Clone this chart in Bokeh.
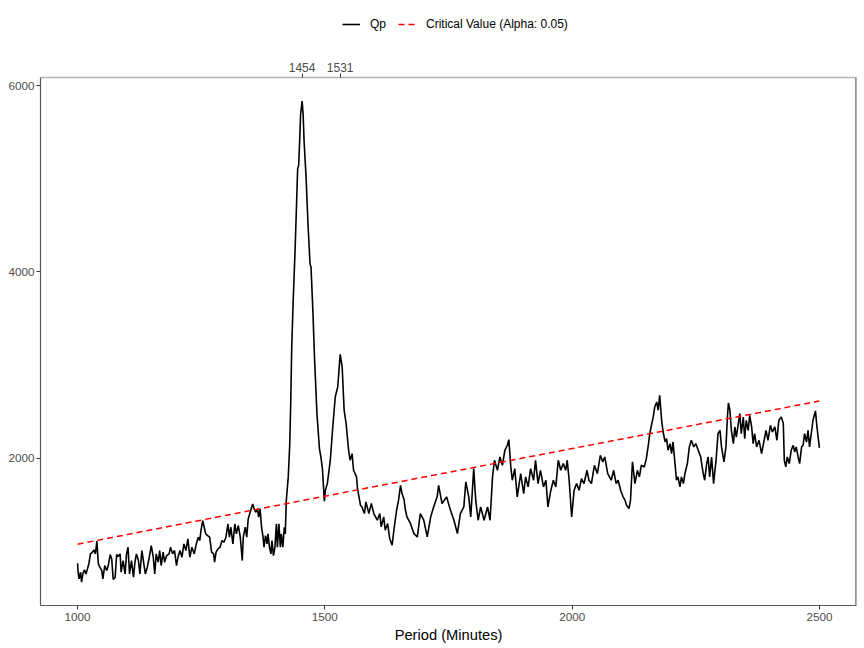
from bokeh.plotting import figure
from bokeh.layouts import column
from bokeh.models import Range1d, LinearAxis, FixedTicker, Legend, LegendItem, Span
from bokeh.embed import file_html
from bokeh.resources import INLINE

periods = [
    1000, 1001, 1003, 1006, 1008, 1011, 1014, 1017, 1020, 1023, 1026, 1030, 1033, 1036, 1039,
    1042, 1045, 1049, 1051, 1055, 1059, 1062, 1066, 1069, 1072, 1076, 1079, 1082, 1086, 1088,
    1092, 1096, 1099, 1102, 1105, 1109, 1113, 1116, 1119, 1123, 1126, 1130, 1133, 1137, 1141,
    1145, 1149, 1153, 1156, 1159, 1163, 1166, 1169, 1173, 1176, 1180, 1185, 1188, 1192, 1196,
    1200, 1203, 1207, 1211, 1215, 1219, 1223, 1227, 1231, 1236, 1240, 1244, 1247, 1250, 1253,
    1256, 1259, 1263, 1267, 1271, 1275, 1277, 1280, 1284, 1288, 1292, 1296, 1300, 1304, 1307,
    1310, 1314, 1318, 1321, 1325, 1329, 1333, 1335, 1339, 1342, 1345, 1349, 1352, 1354, 1357,
    1360, 1364, 1366, 1369, 1372, 1375, 1377, 1380, 1383, 1385, 1388, 1391, 1393, 1396, 1399,
    1402, 1404, 1407, 1410, 1412, 1415, 1418, 1420, 1422, 1426, 1429, 1431, 1433, 1436, 1440,
    1445, 1447, 1449, 1451, 1454, 1456, 1458, 1462, 1466, 1470, 1472, 1476, 1479, 1484, 1489,
    1492, 1495, 1499, 1501, 1505, 1511, 1516, 1521, 1526, 1531, 1535, 1539, 1543, 1548, 1551,
    1555, 1558, 1564, 1566, 1572, 1575, 1580, 1583, 1589, 1594, 1599, 1606, 1611, 1614, 1619,
    1622, 1627, 1631, 1636, 1640, 1645, 1649, 1653, 1656, 1660, 1663, 1666, 1673, 1680, 1687,
    1693, 1700, 1707, 1714, 1720, 1727, 1730, 1737, 1746, 1754, 1761, 1768, 1774, 1781, 1785,
    1791, 1795, 1801, 1805, 1810, 1815, 1822, 1829, 1834, 1839, 1843, 1849, 1854, 1859, 1864,
    1869, 1872, 1876, 1879, 1884, 1889, 1896, 1902, 1906, 1911, 1916, 1922, 1926, 1931, 1936,
    1942, 1947, 1951, 1957, 1962, 1967, 1972, 1977, 1982, 1987, 1990, 1994, 1999, 2004, 2009,
    2014, 2019, 2024, 2030, 2034, 2039, 2045, 2051, 2057, 2062, 2066, 2072, 2079, 2084, 2089,
    2093, 2098, 2103, 2107, 2110, 2115, 2118, 2122, 2127, 2132, 2136, 2140, 2146, 2150, 2154,
    2157, 2161, 2164, 2167, 2171, 2174, 2177, 2181, 2184, 2188, 2191, 2194, 2198, 2201, 2204,
    2208, 2211, 2214, 2218, 2221, 2225, 2228, 2233, 2237, 2241, 2246, 2250, 2255, 2260, 2265,
    2268, 2272, 2275, 2278, 2282, 2286, 2291, 2295, 2299, 2302, 2307, 2311, 2314, 2316, 2319,
    2322, 2326, 2329, 2332, 2336, 2339, 2342, 2346, 2349, 2352, 2356, 2359, 2363, 2366, 2369,
    2373, 2378, 2383, 2387, 2392, 2396, 2401, 2405, 2410, 2414, 2418, 2423, 2427, 2429, 2432,
    2435, 2439, 2443, 2447, 2450, 2453, 2457, 2460, 2464, 2467, 2470, 2474, 2477, 2480, 2484,
    2487, 2492, 2495, 2500,
]

qp = [
    874, 777, 706, 777, 670, 767, 802, 759, 813, 874, 974, 992, 1017, 974, 1110,
    867, 831, 795, 706, 849, 795, 849, 967, 920, 699, 724, 967, 945, 974, 777,
    902, 759, 974, 1045, 759, 902, 724, 885, 974, 902, 759, 1010, 902, 759, 831,
    938, 1063, 938, 759, 974, 885, 1010, 849, 992, 885, 956, 974, 1045, 974, 1010,
    849, 938, 1010, 938, 1081, 1010, 1135, 938, 1045, 974, 1081, 1153, 1117, 1242, 1331,
    1260, 1188, 1171, 1153, 992, 974, 885, 992, 1028, 1045, 1117, 1099, 1153, 1296, 1153,
    1260, 1081, 1296, 1188, 1278, 1153, 902, 1153, 1260, 1153, 1349, 1421, 1474, 1510, 1457,
    1421, 1457, 1367, 1457, 1260, 1153, 1045, 1171, 1081, 1188, 1045, 974, 1117, 956, 1045,
    1296, 1045, 1296, 1045, 1188, 1045, 1260, 1188, 1546, 1800, 2150, 2600, 3194, 3700, 4266,
    5107, 5143, 5400, 5696, 5832, 5696, 5400, 5017, 4500, 4088, 4050, 3552, 3086, 2479, 2104,
    2014, 1889, 1540, 1657, 1728, 1979, 2336, 2657, 2765, 3115, 2980, 2515, 2372, 2086, 1979,
    2050, 1871, 1800, 1675, 1496, 1478, 1407, 1531, 1407, 1514, 1407, 1335, 1407, 1264, 1371,
    1228, 1300, 1139, 1067, 1246, 1442, 1550, 1710, 1621, 1560, 1442, 1371, 1300, 1192, 1157,
    1407, 1335, 1157, 1371, 1478, 1586, 1710, 1514, 1586, 1442, 1335, 1192, 1407, 1478, 1746,
    1586, 1371, 1889, 1550, 1335, 1478, 1335, 1478, 1335, 1800, 1979, 1871, 2014, 1925, 2086,
    2139, 2200, 1907, 1764, 1889, 1586, 1836, 1621, 1800, 1693, 1889, 1764, 1979, 1728, 1871,
    1693, 1764, 1478, 1657, 1764, 1693, 1979, 1871, 1943, 1871, 1979, 1764, 1371, 1657, 1728,
    1657, 1782, 1728, 1871, 1764, 1728, 1925, 1836, 2032, 1961, 2014, 1836, 1764, 1871, 1728,
    1764, 1657, 1586, 1550, 1496, 1460, 1550, 1961, 1728, 1871, 1800, 1925, 1907, 1996, 2139,
    2264, 2372, 2443, 2550, 2604, 2515, 2676, 2407, 2282, 2175, 2211, 2086, 2157, 2050, 2175,
    1943, 1764, 1800, 1693, 1800, 1728, 1836, 1943, 2122, 2193, 2122, 2157, 2086, 2014, 1836,
    1764, 1943, 2014, 1800, 2014, 1728, 1979, 2264, 2300, 2122, 1961, 2122, 2443, 2593, 2515,
    2300, 2157, 2336, 2228, 2372, 2479, 2264, 2443, 2211, 2407, 2300, 2461, 2336, 2157, 2264,
    2122, 2193, 2050, 2157, 2300, 2193, 2354, 2282, 2336, 2193, 2407, 2443, 2372, 1979, 1907,
    2014, 1943, 2086, 2139, 2068, 2122, 2014, 1943, 2122, 2139, 2264, 2175, 2300, 2122, 2282,
    2407, 2508, 2336, 2111,
]

crit_periods = [1000, 1250, 1500, 1750, 2000, 2250, 2500]
crit_values = [1078, 1336, 1593, 1849, 2104, 2359, 2614]

peak_ticks = [1454, 1531]
x_ticks = [1000, 1500, 2000, 2500]
y_ticks = [2000, 4000, 6000]

FONT = "Liberation Sans"
TICK_COL = "#4d4d4d"
QP_STYLE = dict(line_color="black", line_width=1.6)
CV_STYLE = dict(line_color="red", line_width=1.5, line_dash="6 4")

# ---------------- legend strip (top) ----------------
leg_fig = figure(width=864, height=50, output_backend="svg", toolbar_location=None,
                 x_range=Range1d(925, 2575), y_range=Range1d(-2, -1),
                 x_axis_type=None, y_axis_type=None,
                 min_border_left=0, min_border_right=0, min_border_top=0, min_border_bottom=0)
leg_fig.xgrid.visible = False
leg_fig.ygrid.visible = False
leg_fig.outline_line_color = None
lr1 = leg_fig.line(periods, qp, **QP_STYLE)
lr2 = leg_fig.line(crit_periods, crit_values, **CV_STYLE)
legend = Legend(items=[LegendItem(label="Qp", renderers=[lr1]),
                       LegendItem(label="Critical Value (Alpha: 0.05)", renderers=[lr2])],
                orientation="horizontal", location=(302, 19))
legend.label_text_font = FONT
legend.label_text_font_size = "12px"
legend.label_text_color = "black"
legend.glyph_width = 18
legend.glyph_height = 14
legend.label_standoff = 10
legend.spacing = 8
legend.padding = 4
legend.margin = 0
legend.border_line_color = None
legend.background_fill_alpha = 0
leg_fig.add_layout(legend)

# ---------------- main chart ----------------
p = figure(width=864, height=598, output_backend="svg", toolbar_location=None,
           x_range=leg_fig.x_range, y_range=Range1d(420, 6086),
           min_border_left=40, min_border_right=8, min_border_top=27, min_border_bottom=43)
p.xgrid.visible = False
p.ygrid.visible = False
p.outline_line_color = None
p.background_fill_color = "white"

p.line(periods, qp, **QP_STYLE)
p.line(crit_periods, crit_values, **CV_STYLE)

xa = p.xaxis[0]
xa.ticker = FixedTicker(ticks=x_ticks)
xa.axis_label = "Period (Minutes)"
ya = p.yaxis[0]
ya.ticker = FixedTicker(ticks=y_ticks)

for ax in (xa, ya):
    ax.axis_line_color = "#595959"
    ax.axis_line_width = 1.2
    ax.major_tick_line_color = "#333333"
    ax.major_tick_in = 0
    ax.major_tick_out = 4
    ax.minor_tick_line_color = None
    ax.major_label_text_font = FONT
    ax.major_label_text_font_size = "11.7px"
    ax.major_label_text_color = TICK_COL
ya.major_label_standoff = 2
xa.major_label_standoff = 3
xa.axis_label_text_font = FONT
xa.axis_label_text_font_size = "14.7px"
xa.axis_label_text_font_style = "normal"
xa.axis_label_text_color = "black"
xa.axis_label_standoff = 3

top = LinearAxis(ticker=FixedTicker(ticks=peak_ticks))
top.axis_line_color = "#b3b3b3"
top.axis_line_width = 1.5
top.major_tick_line_color = "#333333"
top.major_tick_in = 0
top.major_tick_out = 4
top.minor_tick_line_color = None
top.major_label_text_font = FONT
top.major_label_text_font_size = "12px"
top.major_label_text_color = TICK_COL
top.major_label_standoff = 2
p.add_layout(top, "above")

p.add_layout(Span(location=2575, dimension="height", line_color="#666666", line_width=2.4))

layout = column(leg_fig, p, spacing=0)
open("out.html", "w").write(file_html(layout, INLINE))
